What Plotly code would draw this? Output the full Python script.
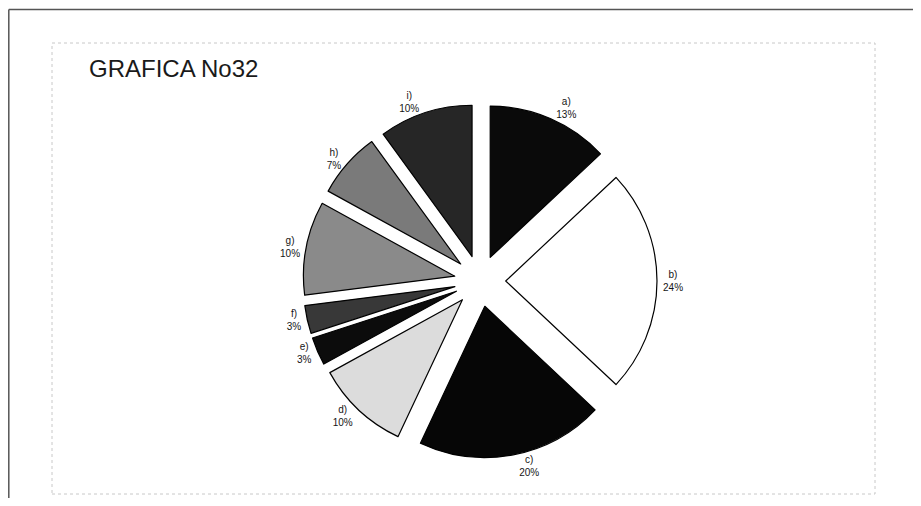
import plotly.graph_objects as go

categories = ["a)", "b)", "c)", "d)", "e)", "f)", "g)", "h)", "i)"]
values = [13, 24, 20, 10, 3, 3, 10, 7, 10]
colors = ["#0a0a0a", "#ffffff", "#060606", "#dcdcdc", "#0c0c0c", "#383838", "#8a8a8a", "#7a7a7a", "#262626"]
title_text = "GRAFICA No32"

OFF = 8                      # default page body margin
W, H = 921 - 2 * OFF, 506 - 2 * OFF


def px(x):                   # page pixel -> paper fraction
    return (x - OFF) / W


def py(y):
    return 1 - (y - OFF) / H


cx, cy, half = 480, 281, 177

fig = go.Figure(go.Pie(
    labels=categories,
    values=values,
    sort=False,
    direction="clockwise",
    rotation=0,
    pull=[0.17] * len(values),
    marker=dict(colors=colors, line=dict(color="#000000", width=1.2)),
    texttemplate="%{label}<br>%{percent:.0%}",
    textposition="outside",
    textfont=dict(family="Arial, Liberation Sans", size=10, color="#151515"),
    hoverinfo="skip",
    domain=dict(x=[px(cx - half), px(cx + half)],
                y=[py(cy + half), py(cy - half)]),
    showlegend=False,
))

fig.update_layout(
    width=W, height=H,
    margin=dict(l=0, r=0, t=0, b=0, autoexpand=False),
    paper_bgcolor="#ffffff",
    plot_bgcolor="#ffffff",
    shapes=[
        dict(type="line", xref="paper", yref="paper", x0=px(8.8), y0=py(9.5), x1=1, y1=py(9.5),
             line=dict(color="#555555", width=1.5)),
        dict(type="line", xref="paper", yref="paper", x0=px(8.8), y0=py(9.5), x1=px(8.8), y1=0,
             line=dict(color="#555555", width=1.5)),
        dict(type="rect", xref="paper", yref="paper", x0=px(52), y0=py(494), x1=px(875), y1=py(43),
             line=dict(color="#c8c8c8", width=1, dash="dot")),
    ],
    annotations=[
        dict(text=title_text, xref="paper", yref="paper", x=px(87), y=py(69),
             xanchor="left", yanchor="middle", showarrow=False,
             font=dict(family="Arial, Liberation Sans", size=24, color="#1a1a1a")),
    ],
)

fig.write_html("out.html")
